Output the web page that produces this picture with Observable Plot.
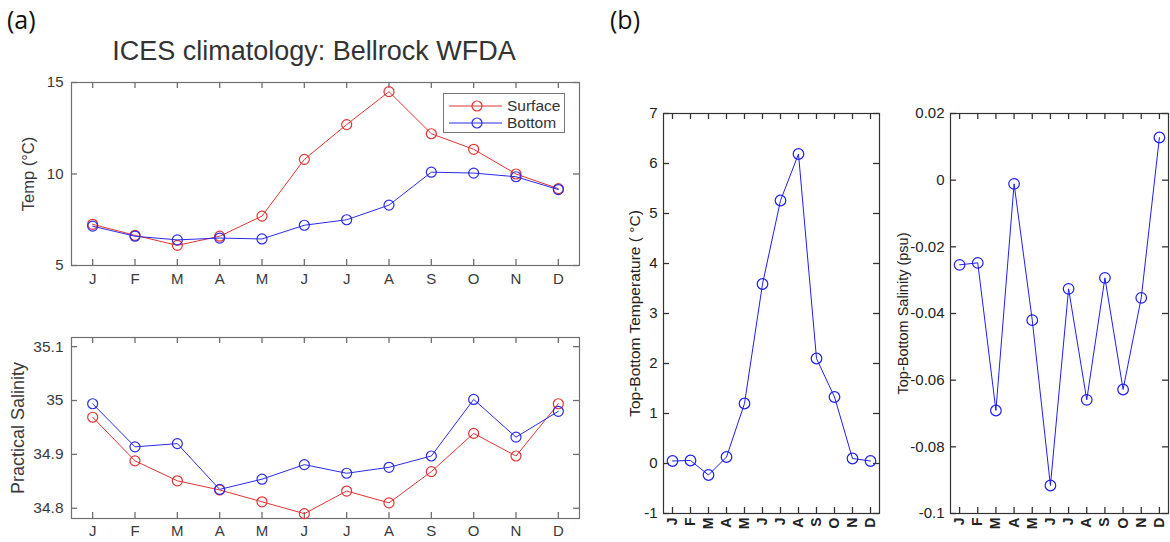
<!DOCTYPE html>
<html>
<head>
<meta charset="utf-8">
<script src="https://cdn.jsdelivr.net/npm/d3@7"></script>
<script src="https://cdn.jsdelivr.net/npm/@observablehq/plot@0.6"></script>
<style>
  html, body { margin: 0; padding: 0; background: #fff; }
  #root { position: relative; width: 1170px; height: 542px; overflow: hidden; font-family: "Liberation Sans", Arial, sans-serif; }
  .abs { position: absolute; }
  .panel { font-family: "Open Sans", Lato, sans-serif; font-size: 25px; color: #111; }
  #title { font-size: 27px; color: #333; white-space: nowrap; transform: translateX(-50%); }
  #legend { border: 1px solid #777; background: #fff; box-sizing: border-box; }
  .lrow { position: absolute; left: 0; height: 18px; display: flex; align-items: center; font-size: 15.5px; color: #333; }
  .lrow svg { margin-right: 3px; }
</style>
</head>
<body>
<div id="root"></div>
<script>
// ---- data ----
const months = ["J","F","M","A","M","J","J","A","S","O","N","D"];
const monthIndex = [1,2,3,4,5,6,7,8,9,10,11,12];
const tempSurface = [7.25, 6.65, 6.1, 6.6, 7.7, 10.8, 12.7, 14.5, 12.2, 11.35, 10.0, 9.2];
const tempBottom  = [7.15, 6.6, 6.4, 6.5, 6.45, 7.2, 7.5, 8.3, 10.1, 10.05, 9.85, 9.15];
const salSurface  = [34.969, 34.888, 34.851, 34.834, 34.812, 34.790, 34.832, 34.810, 34.868, 34.939, 34.897, 34.994];
const salBottom   = [34.994, 34.914, 34.920, 34.835, 34.854, 34.881, 34.865, 34.876, 34.897, 35.002, 34.932, 34.980];
const diffTemp    = [0.05, 0.06, -0.23, 0.13, 1.2, 3.59, 5.26, 6.19, 2.1, 1.33, 0.1, 0.05];
const diffSal     = [-0.0254, -0.0248, -0.0691, -0.0011, -0.042, -0.0916, -0.0326, -0.0659, -0.0293, -0.0628, -0.0353, 0.0128];
const tempTicks = [5, 10, 15];
const salTicks = [34.8, 34.9, 35.0, 35.1];
const diffTempTicks = [-1, 0, 1, 2, 3, 4, 5, 6, 7];
const diffSalTicks = [-0.1, -0.08, -0.06, -0.04, -0.02, 0, 0.02];
const seriesNames = ["Surface", "Bottom"];
const RED = "#e23434", BLUE = "#2b2be6", BLUE_B = "#1f1ff0";

const root = document.getElementById("root");
const toRows = (vals) => vals.map((v, i) => ({m: monthIndex[i], v}));
const X_DOMAIN = [0.5, 12.5];
const TICK = 6;

function place(el, left, top) {
  el.style.position = "absolute";
  el.style.left = left + "px";
  el.style.top = top + "px";
  root.appendChild(el);
}

function chart(cfg) {
  const [y0, y1] = cfg.yDomain;
  const [x0, x1] = X_DOMAIN;
  const ts = {stroke: cfg.frame, strokeWidth: 1.3};
  const marks = [
    Plot.frame({stroke: cfg.frame, strokeWidth: 1.2}),
    // inward MATLAB-style ticks on all four sides (zero-length rules grown by insets)
    Plot.ruleX(monthIndex, {...ts, x: d => d, y1: () => y0, y2: () => y0, insetBottom: TICK}),
    Plot.ruleX(monthIndex, {...ts, x: d => d, y1: () => y1, y2: () => y1, insetTop: TICK}),
    Plot.ruleY(cfg.yTicks, {...ts, y: d => d, x1: () => x0, x2: () => x0, insetLeft: TICK}),
    Plot.ruleY(cfg.yTicks, {...ts, y: d => d, x1: () => x1, x2: () => x1, insetRight: TICK}),
    // tick labels
    Plot.axisX({anchor: "bottom", ticks: monthIndex, tickSize: 0, tickPadding: cfg.xPad, tickRotate: cfg.rot,
                tickFormat: i => months[i - 1], fill: cfg.text, fontSize: cfg.xFont, fontWeight: cfg.xWeight, label: null}),
    Plot.axisY({anchor: "left", ticks: cfg.yTicks, tickSize: 0, tickPadding: cfg.yPad, tickFormat: cfg.yFmt,
                fill: cfg.text, fontSize: cfg.yFont, label: null}),
    Plot.text([cfg.ylabel], {frameAnchor: "left", rotate: -90, dx: cfg.ylabelDx, text: d => d,
                textAnchor: "middle", lineAnchor: "middle", fontSize: cfg.ylabelFont, fill: cfg.text}),
  ];
  for (const s of cfg.series) {
    marks.push(Plot.line(toRows(s.values), {x: "m", y: "v", stroke: s.color, strokeWidth: 1}));
    marks.push(Plot.dot(toRows(s.values), {x: "m", y: "v", r: cfg.r, stroke: s.color, fill: "none", strokeWidth: 1.2}));
  }
  return Plot.plot({
    width: cfg.width, height: cfg.height,
    marginLeft: cfg.ml, marginRight: cfg.mr, marginTop: cfg.mt, marginBottom: cfg.mb,
    x: {type: "linear", domain: X_DOMAIN, axis: null},
    y: {type: "linear", domain: cfg.yDomain, axis: null},
    style: {fontFamily: "'Liberation Sans', Arial, sans-serif", background: "transparent", overflow: "visible"},
    marks
  });
}

// (a) top: temperature
place(chart({
  width: 600, height: 240, ml: 71, mr: 21, mt: 22, mb: 35,
  yDomain: [5, 15], yTicks: tempTicks, yFmt: d => String(d),
  frame: "#707070", text: "#3a3a3a", xPad: 8, yPad: 8, xFont: 15, xWeight: "normal", yFont: 15, r: 5, rot: 0,
  ylabel: "Temp (°C)", ylabelDx: -43, ylabelFont: 16.5,
  series: [{values: tempSurface, color: RED}, {values: tempBottom, color: BLUE}]
}), 0, 60);

// (a) bottom: salinity
place(chart({
  width: 600, height: 232, ml: 71, mr: 21, mt: 27, mb: 24,
  yDomain: [34.781, 35.117], yTicks: salTicks, yFmt: d => String(+d.toFixed(1)),
  frame: "#707070", text: "#3a3a3a", xPad: 7, yPad: 8, xFont: 15, xWeight: "normal", yFont: 15.5, r: 5, rot: 0,
  ylabel: "Practical Salinity", ylabelDx: -53, ylabelFont: 18,
  series: [{values: salSurface, color: RED}, {values: salBottom, color: BLUE}]
}), 0, 310);

// (b) left: top-bottom temperature
place(chart({
  width: 290, height: 452, ml: 63, mr: 11, mt: 23, mb: 29,
  yDomain: [-1, 7], yTicks: diffTempTicks, yFmt: d => String(d),
  frame: "#333", text: "#222", xPad: 4, yPad: 6, xFont: 14, xWeight: 600, yFont: 15, r: 5.3, rot: -90,
  ylabel: "Top-Bottom Temperature ( °C)", ylabelDx: -28, ylabelFont: 15.5,
  series: [{values: diffTemp, color: BLUE_B}]
}), 600, 90);

// (b) right: top-bottom salinity
place(chart({
  width: 280, height: 452, ml: 60, mr: 2, mt: 23, mb: 29,
  yDomain: [-0.1, 0.02], yTicks: diffSalTicks, yFmt: d => String(+d.toFixed(2)),
  frame: "#333", text: "#222", xPad: 4, yPad: 6, xFont: 14, xWeight: 600, yFont: 15, r: 5.3, rot: -90,
  ylabel: "Top-Bottom Salinity (psu)", ylabelDx: -47, ylabelFont: 14.5,
  series: [{values: diffSal, color: BLUE_B}]
}), 890, 90);

// texts
function addText(cls, txt, left, top, id) {
  const d = document.createElement("div");
  d.className = "abs " + cls;
  if (id) d.id = id;
  d.textContent = txt;
  d.style.left = left + "px";
  d.style.top = top + "px";
  root.appendChild(d);
  return d;
}
addText("panel", "(a)", 7, 2);
addText("panel", "(b)", 610, 2);
addText("", "ICES climatology: Bellrock WFDA", 314, 36, "title");

// legend
const legend = document.createElement("div");
legend.id = "legend";
legend.className = "abs";
Object.assign(legend.style, {left: "443px", top: "93px", width: "122px", height: "40px"});
[[seriesNames[0], RED, 3], [seriesNames[1], BLUE, 20]].forEach(([name, color, top]) => {
  const row = document.createElement("div");
  row.className = "lrow";
  row.style.top = top + "px";
  row.innerHTML = `<svg width="60" height="18"><line x1="5" x2="58" y1="9" y2="9" stroke="${color}" stroke-width="1"/><circle cx="33" cy="9" r="5" fill="none" stroke="${color}" stroke-width="1.2"/></svg>`;
  const t = document.createElement("span");
  t.textContent = name;
  row.appendChild(t);
  legend.appendChild(row);
});
root.appendChild(legend);
</script>
</body>
</html>
